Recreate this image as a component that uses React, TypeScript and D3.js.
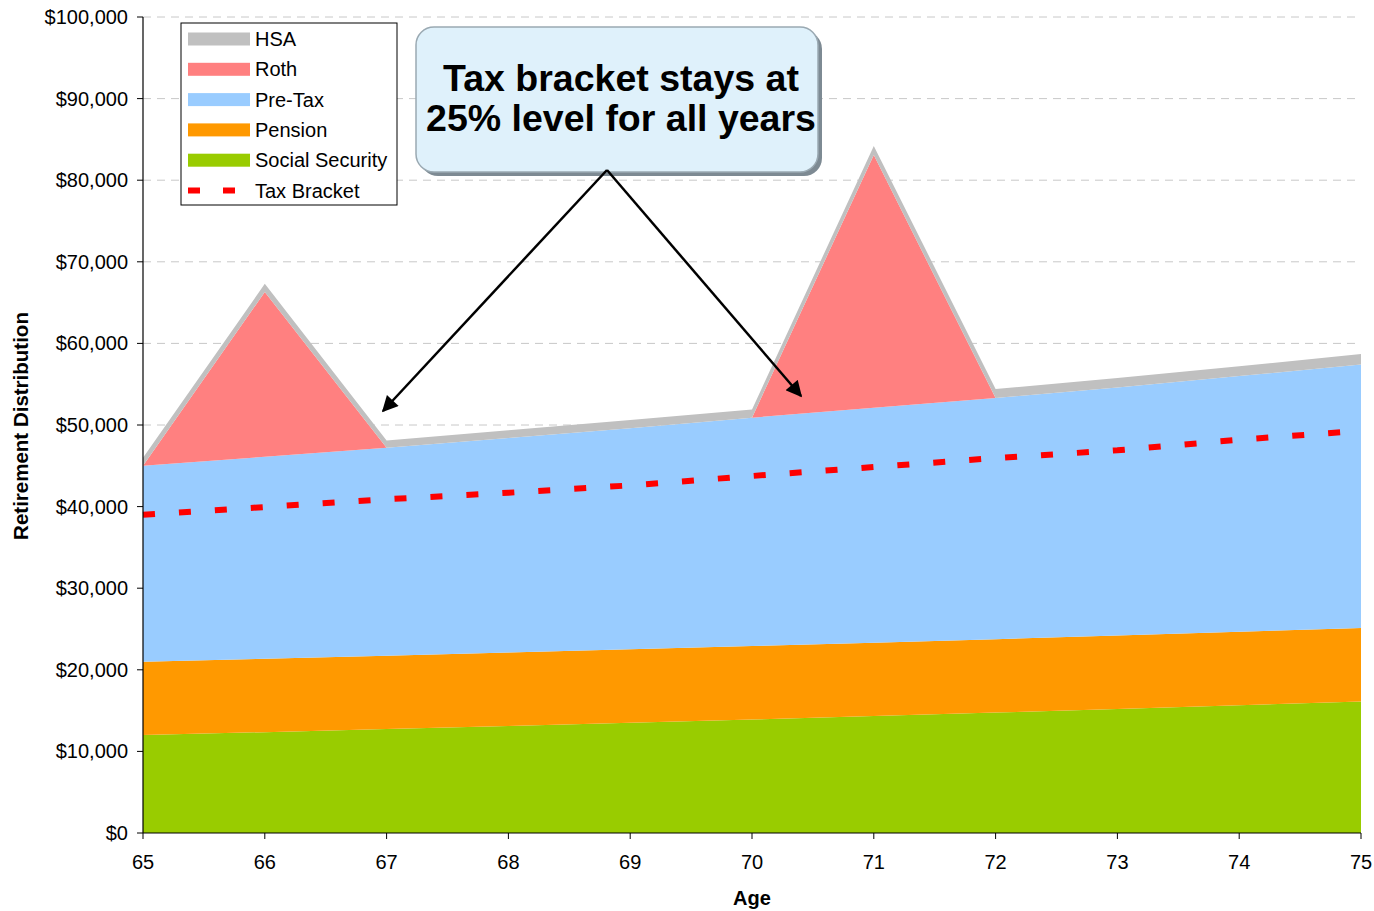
import React from "react";
import * as d3 from "d3";

const ages = [65, 66, 67, 68, 69, 70, 71, 72, 73, 74, 75];
const socialSecurity = [12000, 12360, 12731, 13113, 13506, 13911, 14329, 14758, 15201, 15657, 16127];
const pension = [9000, 9000, 9000, 9000, 9000, 9000, 9000, 9000, 9000, 9000, 9000];
const preTax = [24000, 24740, 25469, 26287, 27094, 27989, 28771, 29542, 30399, 31343, 32273];
const roth = [0, 20200, 0, 0, 0, 0, 31000, 0, 0, 0, 0];
const hsa = [1000, 1000, 900, 950, 1000, 1000, 1100, 1100, 1150, 1200, 1300];
const taxBracket = [39000, 39950, 40900, 41700, 42600, 43750, 44850, 45950, 46900, 48200, 49300];
const yTicks = [0, 10000, 20000, 30000, 40000, 50000, 60000, 70000, 80000, 90000, 100000];

const seriesKeys = ["ss", "pension", "pretax", "roth", "hsa"];
const colors: Record<string, string> = {
  ss: "#99CC00",
  pension: "#FF9900",
  pretax: "#99CCFF",
  roth: "#FF8080",
  hsa: "#C0C0C0",
};
const legendItems = [
  { label: "HSA", key: "hsa" },
  { label: "Roth", key: "roth" },
  { label: "Pre-Tax", key: "pretax" },
  { label: "Pension", key: "pension" },
  { label: "Social Security", key: "ss" },
  { label: "Tax Bracket", key: "tax" },
];

const FONT = "'Liberation Sans', Arial, sans-serif";

export default function App() {
  const left = 143, right = 1361, top = 17, bottom = 833;
  const x = d3.scaleLinear().domain([65, 75]).range([left, right]);
  const y = d3.scaleLinear().domain([0, 100000]).range([bottom, top]);

  const rows = ages.map((a, i) => ({
    age: a,
    ss: socialSecurity[i],
    pension: pension[i],
    pretax: preTax[i],
    roth: roth[i],
    hsa: hsa[i],
  }));
  const stacked = d3.stack<any>().keys(seriesKeys)(rows);
  const area = d3
    .area<any>()
    .x((d) => x(d.data.age))
    .y0((d) => y(d[0]))
    .y1((d) => y(d[1]));
  const taxLine = d3
    .line<number>()
    .x((_, i) => x(ages[i]))
    .y((d) => y(d));

  const fmt = (v: number) => "$" + d3.format(",")(v);

  return (
    <svg
      width={1374}
      height={911}
      style={{ position: "absolute", left: 0, top: 0, background: "#fff" }}
      fontFamily={FONT}
    >
      <defs>
        <marker id="arrowBig" viewBox="0 0 10 10" refX="9" refY="5" markerWidth="18" markerHeight="16" orient="auto" markerUnits="userSpaceOnUse">
          <path d="M0,0 L10,5 L0,10 z" fill="#000" />
        </marker>
      </defs>

      {/* gridlines */}
      {yTicks.slice(1).map((t) => (
        <line key={t} x1={left} x2={right} y1={y(t)} y2={y(t)} stroke="#c8c8c8" strokeWidth={1} strokeDasharray="8,6" />
      ))}

      {/* areas */}
      {stacked.map((s) => (
        <path key={s.key} d={area(s) || ""} fill={colors[s.key]} />
      ))}

      {/* tax bracket */}
      <path d={taxLine(taxBracket) || ""} fill="none" stroke="#FF0000" strokeWidth={6} strokeDasharray="12,24" />

      {/* axes */}
      <line x1={left} x2={left} y1={top} y2={bottom} stroke="#000" strokeWidth={1.2} />
      <line x1={left} x2={right} y1={bottom} y2={bottom} stroke="#000" strokeWidth={1.2} />
      {yTicks.map((t) => (
        <g key={t}>
          <line x1={left - 6} x2={left} y1={y(t)} y2={y(t)} stroke="#000" />
          <text x={128} y={y(t)} dy="0.35em" textAnchor="end" fontSize={20} fill="#000">
            {fmt(t)}
          </text>
        </g>
      ))}
      {ages.map((a) => (
        <g key={a}>
          <line x1={x(a)} x2={x(a)} y1={bottom} y2={bottom + 6} stroke="#000" />
          <text x={x(a)} y={862} dy="0.35em" textAnchor="middle" fontSize={20} fill="#000">
            {a}
          </text>
        </g>
      ))}
      <text x={752} y={898} dy="0.35em" textAnchor="middle" fontSize={20} fontWeight="bold">
        Age
      </text>
      <text
        transform={`translate(21,426) rotate(-90)`}
        dy="0.35em"
        textAnchor="middle"
        fontSize={20.5}
        fontWeight="bold"
      >
        Retirement Distribution
      </text>

      {/* legend */}
      <rect x={181} y={23} width={216} height={182} fill="#fff" stroke="#000" strokeWidth={1} />
      {legendItems.map((it, i) => {
        const cy = 39 + i * 30.3;
        return (
          <g key={it.key}>
            {it.key === "tax" ? (
              <line x1={188} x2={250} y1={cy} y2={cy} stroke="#FF0000" strokeWidth={6} strokeDasharray="12,23" />
            ) : (
              <rect x={188} y={cy - 6.5} width={62} height={13} fill={colors[it.key]} />
            )}
            <text x={255} y={cy} dy="0.35em" fontSize={20} fill="#000">
              {it.label}
            </text>
          </g>
        );
      })}

      {/* callout */}
      <rect x={420} y={31} width={402} height={145} rx={18} fill="#7d8a93" />
      <rect x={416} y={27} width={402} height={145} rx={18} fill="#DFF1FB" stroke="#9aa9b2" strokeWidth={1.5} />
      <text x={621} y={78} dy="0.35em" textAnchor="middle" fontSize={37.5} fontWeight="bold" fill="#000">
        Tax bracket stays at
      </text>
      <text x={621} y={118} dy="0.35em" textAnchor="middle" fontSize={37.5} fontWeight="bold" fill="#000">
        25% level for all years
      </text>

      {/* arrows */}
      <line x1={607} y1={170} x2={383} y2={411} stroke="#000" strokeWidth={2.5} markerEnd="url(#arrowBig)" />
      <line x1={607} y1={170} x2={801} y2={396} stroke="#000" strokeWidth={2.5} markerEnd="url(#arrowBig)" />
    </svg>
  );
}
